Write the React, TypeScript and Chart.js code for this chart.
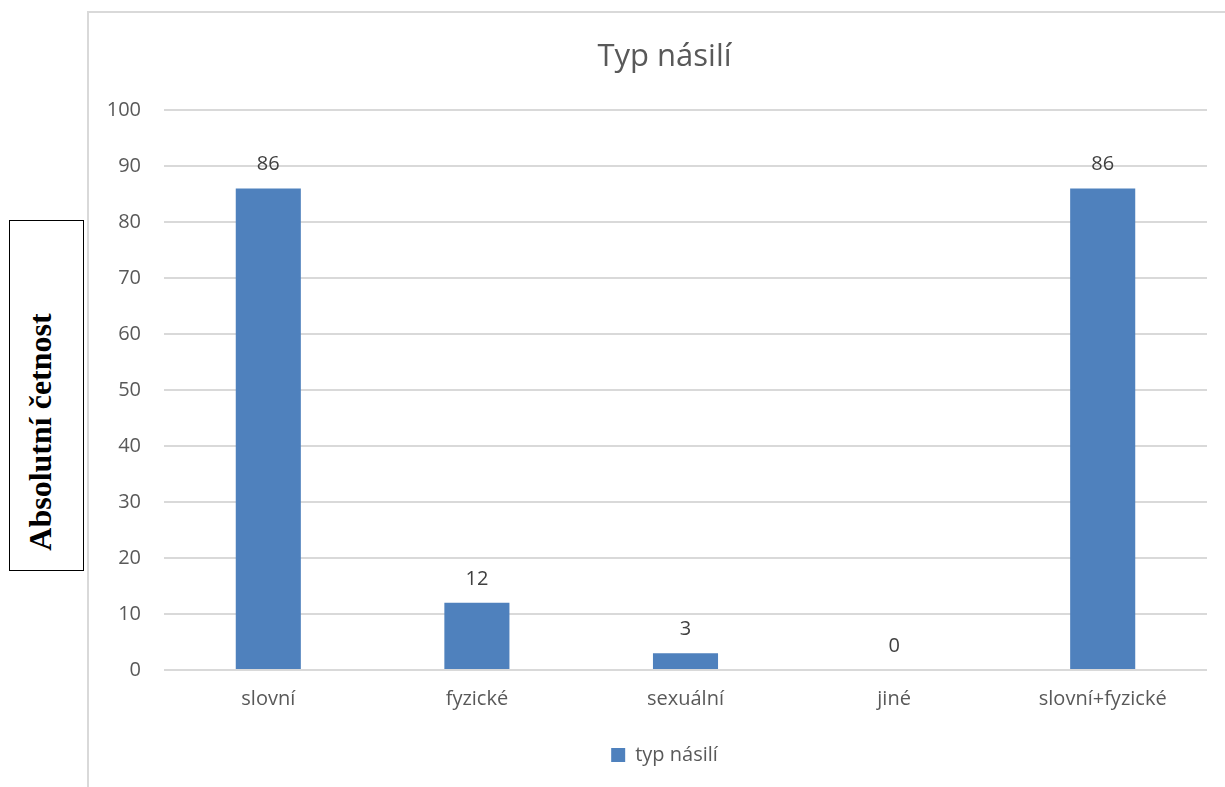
import { useEffect, useRef } from "react";
import { Chart, registerables } from "chart.js";

Chart.register(...registerables);

// Data
const categories = ["slovní", "fyzické", "sexuální", "jiné", "slovní+fyzické"];
const counts = [86, 12, 3, 0, 86];
const seriesName = "typ násilí";
const chartTitle = "Typ násilí";
const axisTitle = "Absolutní četnost";
const yMin = 0;
const yMax = 100;
const yStep = 10;

const SANS = "'Open Sans', 'Noto Sans', sans-serif";
const BAR_BLUE = "#4F81BD";
const TEXT_GREY = "#595959";

// Writes each bar's value just above it
const valueLabels = {
  id: "valueLabels",
  afterDatasetsDraw(chart: any) {
    const { ctx } = chart;
    const meta = chart.getDatasetMeta(0);
    const values = chart.data.datasets[0].data as number[];
    ctx.save();
    ctx.font = `20px ${SANS}`;
    ctx.fillStyle = "#404040";
    ctx.textAlign = "center";
    ctx.textBaseline = "middle";
    meta.data.forEach((bar: any, i: number) => {
      ctx.fillText(String(values[i]), bar.x, bar.y - 24);
    });
    ctx.restore();
  },
};

function BarChart() {
  const canvasRef = useRef<HTMLCanvasElement | null>(null);

  useEffect(() => {
    if (!canvasRef.current) return;
    const chart = new Chart(canvasRef.current, {
      type: "bar",
      data: {
        labels: categories,
        datasets: [
          {
            label: seriesName,
            data: counts,
            backgroundColor: BAR_BLUE,
            borderWidth: 0,
            barPercentage: 0.312,
            categoryPercentage: 1,
          },
        ],
      },
      options: {
        responsive: false,
        animation: false,
        layout: { padding: { top: 0, left: 0, right: 0, bottom: 12 } },
        plugins: {
          title: {
            display: true,
            text: chartTitle,
            color: TEXT_GREY,
            font: { family: SANS, size: 31, weight: "normal" },
            padding: { top: 26, bottom: 34 },
          },
          legend: {
            display: true,
            position: "bottom",
            labels: {
              color: TEXT_GREY,
              font: { family: SANS, size: 20 },
              boxWidth: 14,
              boxHeight: 14,
              padding: 10,
            },
          },
          tooltip: { enabled: false },
        },
        scales: {
          x: {
            grid: { display: false, drawTicks: false },
            border: { display: false },
            ticks: {
              color: TEXT_GREY,
              font: { family: SANS, size: 20 },
              padding: 17,
              maxRotation: 0,
              autoSkip: false,
            },
            afterFit: (s: any) => {
              s.height = 65;
            },
          },
          y: {
            min: yMin,
            max: yMax,
            ticks: {
              stepSize: yStep,
              color: TEXT_GREY,
              font: { family: SANS, size: 20 },
              padding: 23,
            },
            grid: { color: "#d9d9d9", lineWidth: 2, drawTicks: false },
            border: { display: false },
            afterFit: (s: any) => {
              s.width = 75;
            },
          },
          // empty right-hand gutter so the plot ends short of the frame edge
          gutter: {
            type: "linear",
            position: "right",
            display: true,
            grid: { display: false, drawTicks: false },
            ticks: { display: false },
            border: { display: false },
            afterFit: (s: any) => {
              s.width = 33;
            },
          },
        },
      },
      plugins: [valueLabels],
    } as any);
    return () => chart.destroy();
  }, []);

  return (
    <canvas
      ref={canvasRef}
      width={1151}
      height={774}
      style={{ position: "absolute", left: 0, top: 0, width: 1151, height: 774 }}
    />
  );
}

export default function App() {
  return (
    <div
      style={{
        position: "fixed",
        left: 0,
        top: 0,
        width: 1225,
        height: 787,
        overflow: "hidden",
        background: "#ffffff",
      }}
    >
      {/* chart frame */}
      <div
        style={{
          position: "absolute",
          left: 87,
          top: 11,
          width: 1153,
          height: 800,
          boxSizing: "border-box",
          borderLeft: "2px solid #d9d9d9",
          borderTop: "2px solid #d9d9d9",
        }}
      >
        <BarChart />
      </div>
      {/* boxed vertical axis caption */}
      <div
        style={{
          position: "absolute",
          left: 9,
          top: 220,
          width: 75,
          height: 351,
          boxSizing: "border-box",
          border: "1px solid #000000",
          background: "#ffffff",
        }}
      />
      <div
        style={{
          position: "absolute",
          left: 40,
          top: 432,
          transform: "translate(-50%, -50%) rotate(-90deg)",
          whiteSpace: "nowrap",
          fontFamily: "'Liberation Serif', 'Times New Roman', serif",
          fontWeight: "bold",
          fontSize: 32,
          lineHeight: "32px",
          color: "#000000",
        }}
      >
        {axisTitle}
      </div>
    </div>
  );
}
